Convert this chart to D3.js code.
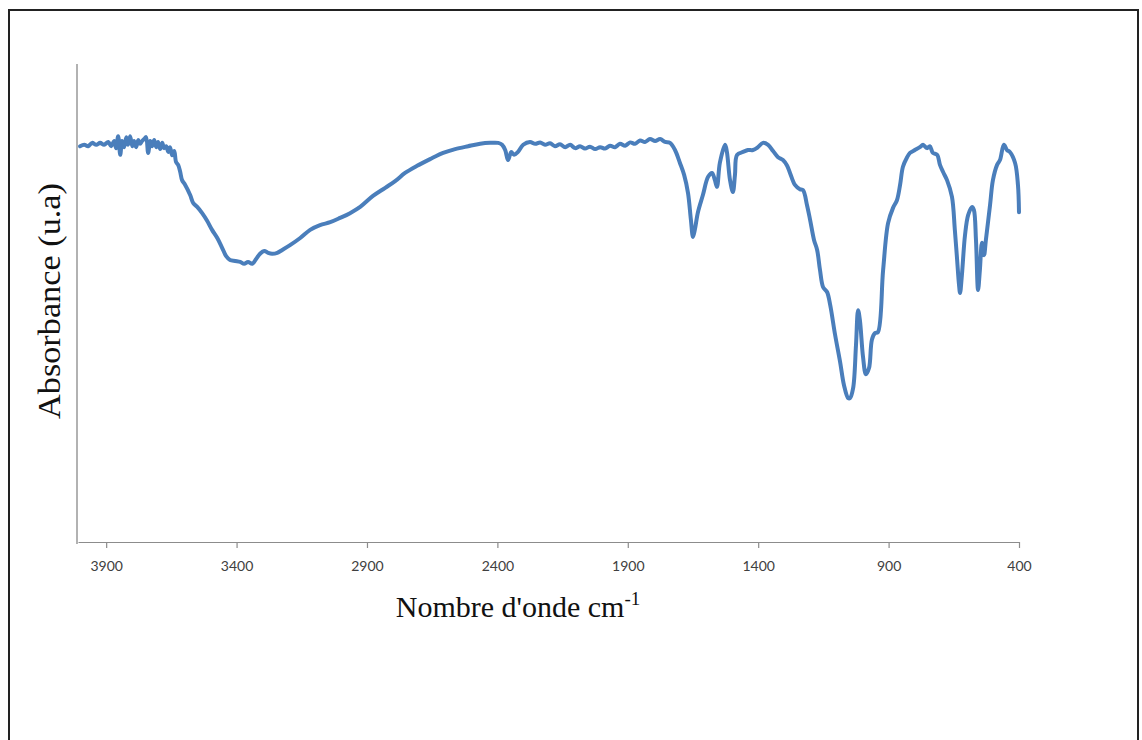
<!DOCTYPE html>
<html>
<head>
<meta charset="utf-8">
<script src="https://cdn.jsdelivr.net/npm/d3@7"></script>
<style>
  html, body { margin: 0; padding: 0; background: #fff; }
  svg { display: block; }
</style>
</head>
<body>
<svg id="chart" width="1142" height="740"></svg>
<script>
// Wavenumbers (cm-1) of the traced spectrum
const wavenumbers = [4000,3984,3969,3954,3938,3923,3908,3892,3881,3869,3862,3854,3846,3839,3831,3823,3816,3808,3800,3793,3785,3777,3770,3762,3754,3747,3739,3731,3724,3716,3708,3701,3693,3685,3678,3670,3662,3655,3647,3639,3632,3624,
3616,3609,3597,3578,3566,3551,3532,3513,3494,3474,3455,3440,3425,3405,3386,3371,3356,3340,3325,3310,3294,3279,3264,3244,3225,3195,3156,3118,3080,3041,3003,2965,2926,2877,2830,2792,2754,2708,2658,2608,2562,2512,2466,2428,2397,2382,2370,2359,2347,2336,2321,2301,
2275,2255,2236,2217,2198,2179,2160,2140,2121,2102,2083,2064,2045,2025,2006,1987,1968,1949,1930,1910,1891,1872,1853,1834,1815,1795,1776,1757,1738,
1719,1700,1684,1669,1658,1650,1643,1631,1612,1592,1577,1566,1558,1547,1527,1520,1508,1497,1489,1481,1458,1439,1420,1401,1382,1362,1343,1324,1305,1289,1278,1259,1240,1228,1213,1201,1186,1174,1163,1151,1136,1124,1105,1086,1071,1055,1048,1036,1025,1017,1010,998,987,975,964,952,941,921,902,883,868,856,845,829,818,799,780,768,753,742,730,714,703,691,676,657,646,638,630,626,619,607,595,580,573,565,557,550,542,534,527,511,500,484,473,458,446,435,415,404,400];
// Signal in arbitrary units (u.a)
const signal = [82.8,83.1,82.8,83.5,83.1,83.5,83.1,83.7,82.8,83.9,82.4,84.9,81.0,83.9,82.6,84.7,83.1,84.9,82.8,83.9,82.6,84.1,83.3,83.9,84.3,84.7,81.4,83.9,82.8,84.1,82.6,83.7,82.2,83.5,82.4,82.8,81.6,82.6,80.9,81.8,79.5,78.9,
77.4,75.7,74.7,72.6,70.9,70.1,68.8,67.2,65.3,63.6,61.5,59.8,59.0,58.8,58.6,58.2,58.6,58.2,59.2,60.3,60.9,60.5,60.3,60.5,61.1,62.1,63.6,65.3,66.3,66.9,67.8,68.8,70.1,72.4,74.1,75.5,77.2,78.7,80.1,81.4,82.2,82.8,83.3,83.5,83.5,83.1,82.0,79.9,81.6,81.0,81.6,83.1,
83.7,83.3,83.6,83.1,83.4,82.8,83.2,82.6,83.1,82.4,82.8,82.3,82.7,82.2,82.6,82.3,82.9,82.6,83.3,82.9,83.6,83.3,84.0,83.7,84.3,83.9,84.3,83.7,83.5,
82.0,79.3,76.8,73.0,67.4,63.8,65.3,69.0,72.6,76.4,77.2,75.7,74.3,79.3,83.1,81.6,75.7,73.2,76.8,81.0,81.6,82.0,82.0,82.6,83.5,83.1,81.8,80.5,79.9,78.7,77.2,74.7,73.8,73.6,70.5,67.4,63.2,61.1,56.9,53.3,52.3,49.6,43.3,37.7,32.8,30.1,30.1,32.2,41.2,48.5,46.4,38.7,35.1,36.4,42.3,43.7,43.9,56.9,66.7,69.9,71.5,74.7,78.5,80.5,81.4,82.0,82.6,83.1,82.4,82.8,81.4,81.0,78.9,77.4,75.7,72.2,65.3,59.6,53.8,52.1,55.8,64.2,68.4,70.1,69.5,63.2,52.7,56.9,62.6,60.0,63.2,70.5,75.7,78.9,79.9,83.1,82.0,81.6,79.3,74.7,69.0];
const xTicks = [3900, 3400, 2900, 2400, 1900, 1400, 900, 400];
const xDomain = [4008, 400];
const yDomain = [0, 100];

const svg = d3.select("#chart");

// outer frame
svg.append("rect")
  .attr("x", 9).attr("y", 10)
  .attr("width", 1129).attr("height", 760)
  .attr("fill", "none")
  .attr("stroke", "#222").attr("stroke-width", 2);

const x = d3.scaleLinear().domain(xDomain).range([78, 1019]);
const y = d3.scaleLinear().domain(yDomain).range([542, 64]);

// y axis line (no ticks)
svg.append("line")
  .attr("x1", 77).attr("x2", 77)
  .attr("y1", 64).attr("y2", 544)
  .attr("stroke", "#7f7f7f").attr("stroke-width", 1.2);

// x axis
const xAxis = d3.axisBottom(x)
  .tickValues(xTicks)
  .tickFormat(d3.format("d"))
  .tickSizeInner(6).tickSizeOuter(0).tickPadding(13);

const gx = svg.append("g")
  .attr("transform", "translate(0,542)")
  .call(xAxis);
gx.select(".domain").attr("stroke", "#8c8c8c").attr("stroke-width", 1.2);
gx.selectAll(".tick line").attr("stroke", "#8c8c8c").attr("stroke-width", 1.2);
gx.selectAll(".tick text")
  .attr("fill", "#404040")
  .style("font-family", "Lato, 'Open Sans', sans-serif")
  .style("font-size", "14px");

// the spectrum
const data = wavenumbers.map((w, i) => ({w, v: signal[i]}));
const line = d3.line()
  .x(d => x(d.w))
  .y(d => y(d.v))
  .curve(d3.curveCatmullRom.alpha(0.5));

svg.append("path")
  .datum(data)
  .attr("d", line)
  .attr("fill", "none")
  .attr("stroke", "#4a7ebb")
  .attr("stroke-width", 4)
  .attr("stroke-linejoin", "round")
  .attr("stroke-linecap", "round");

// x axis title
const xt = svg.append("text")
  .attr("x", 518).attr("y", 617)
  .attr("text-anchor", "middle")
  .style("font-family", "'Liberation Serif', 'Times New Roman', serif")
  .style("font-size", "30px")
  .attr("fill", "#111");
xt.append("tspan").text("Nombre d'onde cm");
xt.append("tspan").attr("dy", -12).style("font-size", "19px").text("-1");

// y axis title
svg.append("text")
  .attr("transform", "translate(60,301) rotate(-90)")
  .attr("text-anchor", "middle")
  .attr("textLength", 236)
  .attr("lengthAdjust", "spacingAndGlyphs")
  .style("font-family", "'Liberation Serif', 'Times New Roman', serif")
  .style("font-size", "31px")
  .attr("fill", "#111")
  .text("Absorbance (u.a)");
</script>
</body>
</html>
